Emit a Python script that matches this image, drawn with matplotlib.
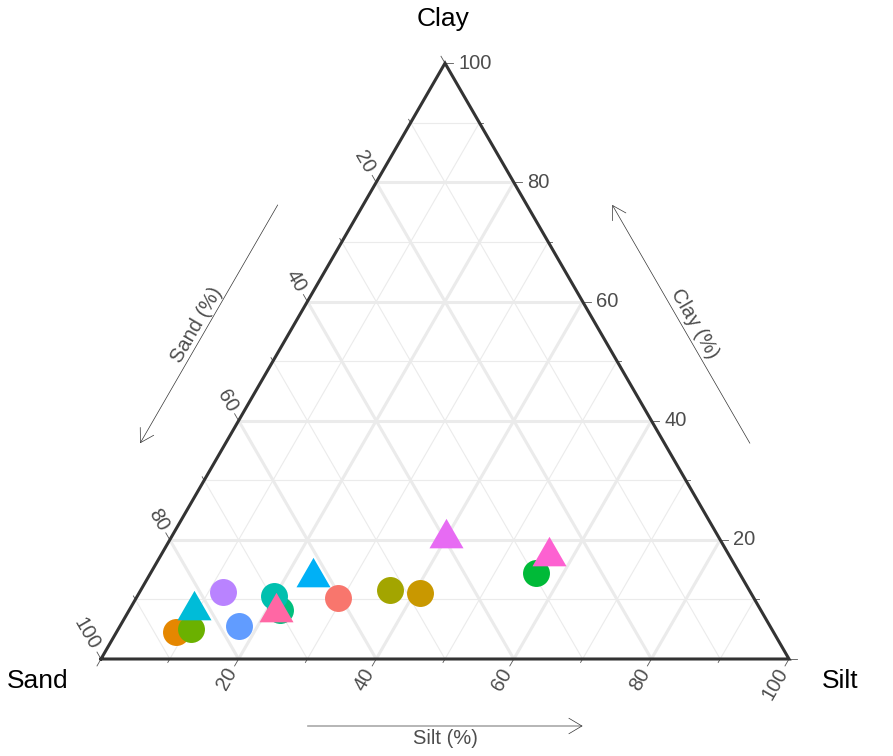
import numpy as np
import matplotlib
matplotlib.use('Agg')
from matplotlib import pyplot as plt
from matplotlib.patches import FancyArrowPatch

plt.rcParams['font.family'] = ['Liberation Sans', 'DejaVu Sans']

# soil samples (silt %, clay %), sand is the remainder
circle_silt = [8.7, 10.6, 12.1, 17.2, 21.9, 19.9, 29.3, 36.2, 40.9, 56.0]
circle_clay = [4.5, 5.1, 11.3, 5.6, 8.2, 10.6, 10.2, 11.6, 11.0, 14.4]
circle_colors = ['#E58700', '#6BB100', '#B983FF', '#619CFF', '#00BF7D',
                 '#00C0AF', '#F8766D', '#A3A500', '#C99800', '#00BA38']

tri_silt = [9.4, 23.9, 21.5, 40.0, 56.4]
tri_clay = [8.3, 13.7, 7.9, 20.3, 17.3]
tri_colors = ['#00BCD8', '#00B0F6', '#FF67A4', '#E76BF3', '#FD61D1']

tick_values = list(range(0, 101, 10))
label_values = [20, 40, 60, 80, 100]

PX = 6.88          # pixels per ternary unit
S3 = np.sqrt(3) / 2


def tern(silt, clay):
    silt = np.asarray(silt, dtype=float)
    clay = np.asarray(clay, dtype=float)
    return silt + clay / 2.0, clay * S3


def main():
    fig = plt.figure(figsize=(8.93, 7.56), dpi=100)
    ax = fig.add_axes([0, 0, 1, 1])
    ax.set_xlim(-101 / PX, (893 - 101) / PX)
    ax.set_ylim((659 - 756) / PX, 659 / PX)
    ax.axis('off')

    # grid
    for v in range(10, 100, 10):
        major = (v % 20 == 0)
        lw = 2.2 if major else 0.8
        col = '#EBEBEB'
        segs = [
            (tern(0, v), tern(100 - v, v)),          # clay = v
            (tern(v, 0), tern(v, 100 - v)),          # silt = v
            (tern(100 - v, 0), tern(0, 100 - v)),    # sand = v
        ]
        for a, b in segs:
            ax.plot([a[0], b[0]], [a[1], b[1]], color=col, lw=lw, zorder=1,
                    solid_capstyle='butt')

    # border
    vx, vy = tern([0, 100, 0, 0], [0, 0, 100, 0])
    ax.plot(vx, vy, color='#333333', lw=2.2, zorder=3, solid_joinstyle='miter')

    # ticks and labels
    dirs = {'clay': (1.0, 0.0), 'sand': (-0.5, S3), 'silt': (-0.5, -S3)}
    tcol = '#4D4D4D'
    fs = 14.5
    for v in tick_values:
        ln = (8 if v % 20 == 0 else 4) / PX
        pts = {'clay': tern(100 - v, v), 'sand': tern(0, 100 - v), 'silt': tern(v, 0)}
        for key, p in pts.items():
            d = dirs[key]
            ax.plot([p[0], p[0] + d[0] * ln], [p[1], p[1] + d[1] * ln],
                    color='#555555', lw=0.6, zorder=2)
        if v in label_values:
            p = pts['clay']
            ax.text(p[0] + 13 / PX, p[1], str(v), ha='left', va='center',
                    fontsize=fs, color=tcol)
            p = pts['sand']
            d = dirs['sand']
            ax.text(p[0] + d[0] * 12 / PX, p[1] + d[1] * 12 / PX, str(v),
                    rotation=-60, rotation_mode='anchor', ha='right', va='center',
                    fontsize=fs, color=tcol)
            p = pts['silt']
            d = dirs['silt']
            ax.text(p[0] + d[0] * 12 / PX, p[1] + d[1] * 12 / PX, str(v),
                    rotation=60, rotation_mode='anchor', ha='right', va='center',
                    fontsize=fs, color=tcol)

    # axis arrows
    def edge_point(a, b, t, off, normal):
        return (a[0] + (b[0] - a[0]) * t + normal[0] * off,
                a[1] + (b[1] - a[1]) * t + normal[1] * off)

    sand_v = tern(0, 0)
    silt_v = tern(100, 0)
    clay_v = tern(0, 100)
    n_left = (-S3, 0.5)
    n_right = (S3, 0.5)
    n_bot = (0.0, -1.0)
    side_off = 74 / PX
    bot_off = 67 / PX
    arrows = [
        (edge_point(sand_v, clay_v, 0.7, side_off, n_left),
         edge_point(sand_v, clay_v, 0.3, side_off, n_left)),
        (edge_point(silt_v, clay_v, 0.3, side_off, n_right),
         edge_point(silt_v, clay_v, 0.7, side_off, n_right)),
        (edge_point(sand_v, silt_v, 0.3, bot_off, n_bot),
         edge_point(sand_v, silt_v, 0.7, bot_off, n_bot)),
    ]
    for a, b in arrows:
        ax.add_patch(FancyArrowPatch(a, b, arrowstyle='->,head_length=0.47,head_width=0.28',
                                     mutation_scale=20, lw=0.5, color='#333333',
                                     shrinkA=0, shrinkB=0, zorder=2))

    p = edge_point(sand_v, clay_v, 0.49, 84 / PX, n_left)
    ax.text(p[0], p[1], 'Sand (%)', rotation=60, ha='center', va='center',
            rotation_mode='anchor', fontsize=fs, color=tcol)
    p = edge_point(silt_v, clay_v, 0.49, 86 / PX, n_right)
    ax.text(p[0], p[1], 'Clay (%)', rotation=-60, ha='center', va='center',
            rotation_mode='anchor', fontsize=fs, color=tcol)
    p = edge_point(sand_v, silt_v, 0.5, 80 / PX, n_bot)
    ax.text(p[0], p[1], 'Silt (%)', ha='center', va='center',
            fontsize=fs, color=tcol)

    # vertex titles
    vfs = 19
    ax.text((38 - 101) / PX, (659 - 681) / PX, 'Sand', ha='center', va='center',
            fontsize=vfs, color='black')
    ax.text((840 - 101) / PX, (659 - 681) / PX, 'Silt', ha='center', va='center',
            fontsize=vfs, color='black')
    ax.text((443 - 101) / PX, (659 - 19) / PX, 'Clay', ha='center', va='center',
            fontsize=vfs, color='black')

    # points
    cx, cy = tern(circle_silt, circle_clay)
    for x, y, c in zip(cx, cy, circle_colors):
        ax.plot(x, y, 'o', ms=19.4, color=c, mew=0, zorder=4)
    tx, ty = tern(tri_silt, tri_clay)
    for x, y, c in zip(tx, ty, tri_colors):
        ax.plot(x, y, marker=(3, 0, 0), ms=28.3, color=c, mew=0, zorder=5)

    plt.savefig('out.png', dpi=100)


if __name__ == '__main__':
    main()
